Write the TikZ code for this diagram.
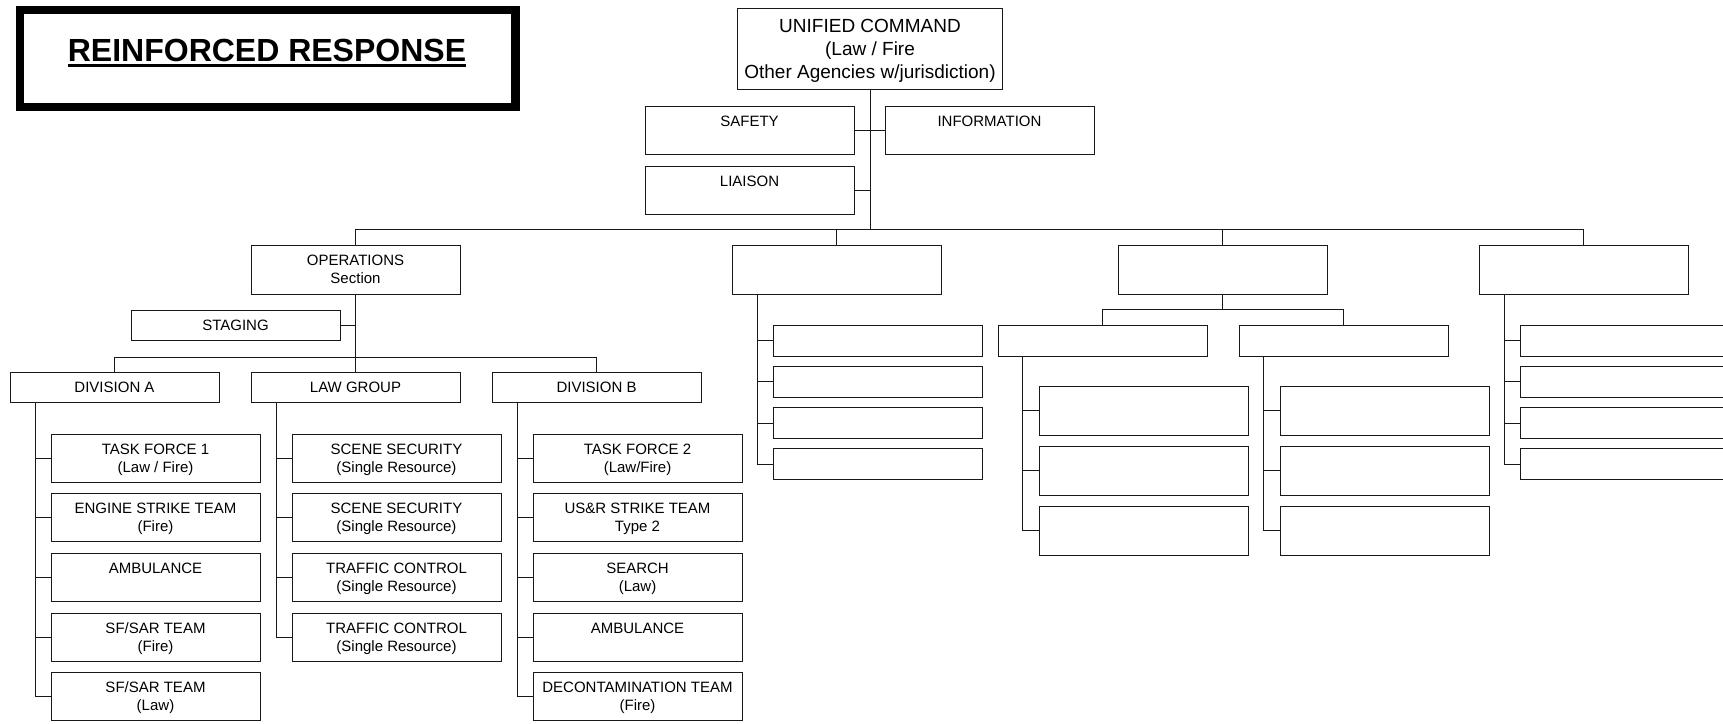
\documentclass[tikz,border=0pt]{standalone}
\usepackage{fontspec}
\setmainfont{Liberation Sans}
\newcommand\bxs{\rule[-3.65pt]{0pt}{18pt}}
\newcommand\ucs{\rule[-4.7pt]{0pt}{23pt}}
\newcommand\twoln[2]{\bxs #1\\\bxs #2}
\tikzset{
  box/.style={draw=black!90, line width=1pt, inner sep=0pt, align=center, minimum width=209pt, font=\fontsize{15}{18}\selectfont},
  secbox/.style={box, minimum height=49pt},
  resbox/.style={box, minimum height=48pt},
  thinbox/.style={box, minimum height=30pt},
  slimbox/.style={box, minimum height=31pt},
  conn/.style={line width=1pt, draw=black!90},
}
\begin{document}
\begin{tikzpicture}[x=1pt,y=-1pt]
\useasboundingbox (0,0) rectangle (1723,723);
\clip (0,0) rectangle (1723,723);
% title
\node[draw, line width=8.5pt, minimum width=495.5pt, minimum height=97pt, inner sep=0pt] (titlebox) at (267.75,58.5) {};
\node[font=\fontsize{32}{38}\selectfont\bfseries, inner sep=0pt, anchor=base] (title) at (267,61) {REINFORCED RESPONSE};
\draw[line width=3pt] ([yshift=-4pt]title.base west) -- ([yshift=-4pt]title.base east);
% command
\node[box, minimum width=265.5pt, minimum height=81pt, font=\fontsize{19}{23}\selectfont] (uc) at (870,48.5) {\ucs UNIFIED COMMAND\\\ucs (Law / Fire\\\ucs Other Agencies w/jurisdiction)};
\node[resbox] (safety) at (749.5,130) {\twoln{SAFETY}{}};
\node[resbox] (info) at (989.5,130) {\twoln{INFORMATION}{}};
\node[resbox] (liaison) at (749.5,190) {\twoln{LIAISON}{}};
% sections
\node[secbox] (ops) at (355.5,269.5) {\twoln{OPERATIONS}{Section}};
\node[secbox] (sec2) at (836.5,269.5) {};
\node[secbox] (sec3) at (1222.5,269.5) {};
\node[secbox] (sec4) at (1583.5,269.5) {};
\node[thinbox] (staging) at (235.5,325) {\bxs STAGING};
\node[thinbox] (diva) at (114.5,387) {\bxs DIVISION A};
\node[thinbox] (lawg) at (355.5,387) {\bxs LAW GROUP};
\node[thinbox] (divb) at (596.5,387) {\bxs DIVISION B};
% division A
\node[resbox] (a1) at (155.5,458) {\twoln{TASK FORCE 1}{(Law / Fire)}};
\node[resbox] (a2) at (155.5,517.5) {\twoln{ENGINE STRIKE TEAM}{(Fire)}};
\node[resbox] (a3) at (155.5,577) {\twoln{AMBULANCE}{}};
\node[resbox] (a4) at (155.5,637) {\twoln{SF/SAR TEAM}{(Fire)}};
\node[resbox] (a5) at (155.5,696) {\twoln{SF/SAR TEAM}{(Law)}};
% law group
\node[resbox] (l1) at (396.5,458) {\twoln{SCENE SECURITY}{(Single Resource)}};
\node[resbox] (l2) at (396.5,517.5) {\twoln{SCENE SECURITY}{(Single Resource)}};
\node[resbox] (l3) at (396.5,577) {\twoln{TRAFFIC CONTROL}{(Single Resource)}};
\node[resbox] (l4) at (396.5,637) {\twoln{TRAFFIC CONTROL}{(Single Resource)}};
% division B
\node[resbox] (b1) at (637.5,458) {\twoln{TASK FORCE 2}{(Law/Fire)}};
\node[resbox] (b2) at (637.5,517.5) {\twoln{US\&R STRIKE TEAM}{Type 2}};
\node[resbox] (b3) at (637.5,577) {\twoln{SEARCH}{(Law)}};
\node[resbox] (b4) at (637.5,637) {\twoln{AMBULANCE}{}};
\node[resbox] (b5) at (637.5,696) {\twoln{DECONTAMINATION TEAM}{(Fire)}};
% section 2
\node[slimbox] (p1) at (877.5,340.5) {};
\node[slimbox] (p2) at (877.5,381.8) {};
\node[slimbox] (p3) at (877.5,423.1) {};
\node[slimbox] (p4) at (877.5,464.4) {};
% section 3
\node[slimbox] (s3a) at (1102.5,340.5) {};
\node[slimbox] (s3b) at (1343.5,340.5) {};
\node[secbox] (u1) at (1143.5,410.5) {};
\node[secbox] (u2) at (1143.5,470.5) {};
\node[secbox] (u3) at (1143.5,530.5) {};
\node[secbox] (w1) at (1384.5,410.5) {};
\node[secbox] (w2) at (1384.5,470.5) {};
\node[secbox] (w3) at (1384.5,530.5) {};
% section 4
\node[slimbox] (q1) at (1625,340.5) {};
\node[slimbox] (q2) at (1625,381.8) {};
\node[slimbox] (q3) at (1625,423.1) {};
\node[slimbox] (q4) at (1625,464.4) {};
% connectors: command level
\coordinate (mbar) at (870,229);
\draw[conn] (uc.south) -- (mbar);
\draw[conn] (safety.east) -- (info.west);
\draw[conn] (liaison.east) -- (liaison.east -| uc.south);
\draw[conn] (ops.north) -- (ops.north |- mbar) -- (sec4.north |- mbar) -- (sec4.north);
\draw[conn] (sec2.north) -- (sec2.north |- mbar);
\draw[conn] (sec3.north) -- (sec3.north |- mbar);
% operations
\coordinate (obar) at (355.5,357);
\draw[conn] (ops.south) -- (lawg.north);
\draw[conn] (staging.east) -- (staging.east -| ops.south);
\draw[conn] (diva.north) -- (diva.north |- obar) -- (divb.north |- obar) -- (divb.north);
% divisions
\coordinate (va) at ([xshift=25.5pt]diva.south west);
\coordinate (vl) at ([xshift=25.5pt]lawg.south west);
\coordinate (vb) at ([xshift=25.5pt]divb.south west);
\draw[conn] (va) |- (a5.west);
\foreach \n in {a1,a2,a3,a4} \draw[conn] (\n.west) -- (\n.west -| va);
\draw[conn] (vl) |- (l4.west);
\foreach \n in {l1,l2,l3} \draw[conn] (\n.west) -- (\n.west -| vl);
\draw[conn] (vb) |- (b5.west);
\foreach \n in {b1,b2,b3,b4} \draw[conn] (\n.west) -- (\n.west -| vb);
% section 2
\coordinate (v2) at ([xshift=25.5pt]sec2.south west);
\draw[conn] (v2) |- (p4.west);
\foreach \n in {p1,p2,p3} \draw[conn] (\n.west) -- (\n.west -| v2);
% section 3
\coordinate (bar3) at (1222.5,309);
\draw[conn] (sec3.south) -- (bar3);
\draw[conn] (s3a.north) -- (s3a.north |- bar3) -- (s3b.north |- bar3) -- (s3b.north);
\coordinate (v3a) at ([xshift=25pt]s3a.south west);
\coordinate (v3b) at ([xshift=25pt]s3b.south west);
\draw[conn] (v3a) |- (u3.west);
\foreach \n in {u1,u2} \draw[conn] (\n.west) -- (\n.west -| v3a);
\draw[conn] (v3b) |- (w3.west);
\foreach \n in {w1,w2} \draw[conn] (\n.west) -- (\n.west -| v3b);
% section 4
\coordinate (v4) at ([xshift=26pt]sec4.south west);
\draw[conn] (v4) |- (q4.west);
\foreach \n in {q1,q2,q3} \draw[conn] (\n.west) -- (\n.west -| v4);
\end{tikzpicture}
\end{document}
